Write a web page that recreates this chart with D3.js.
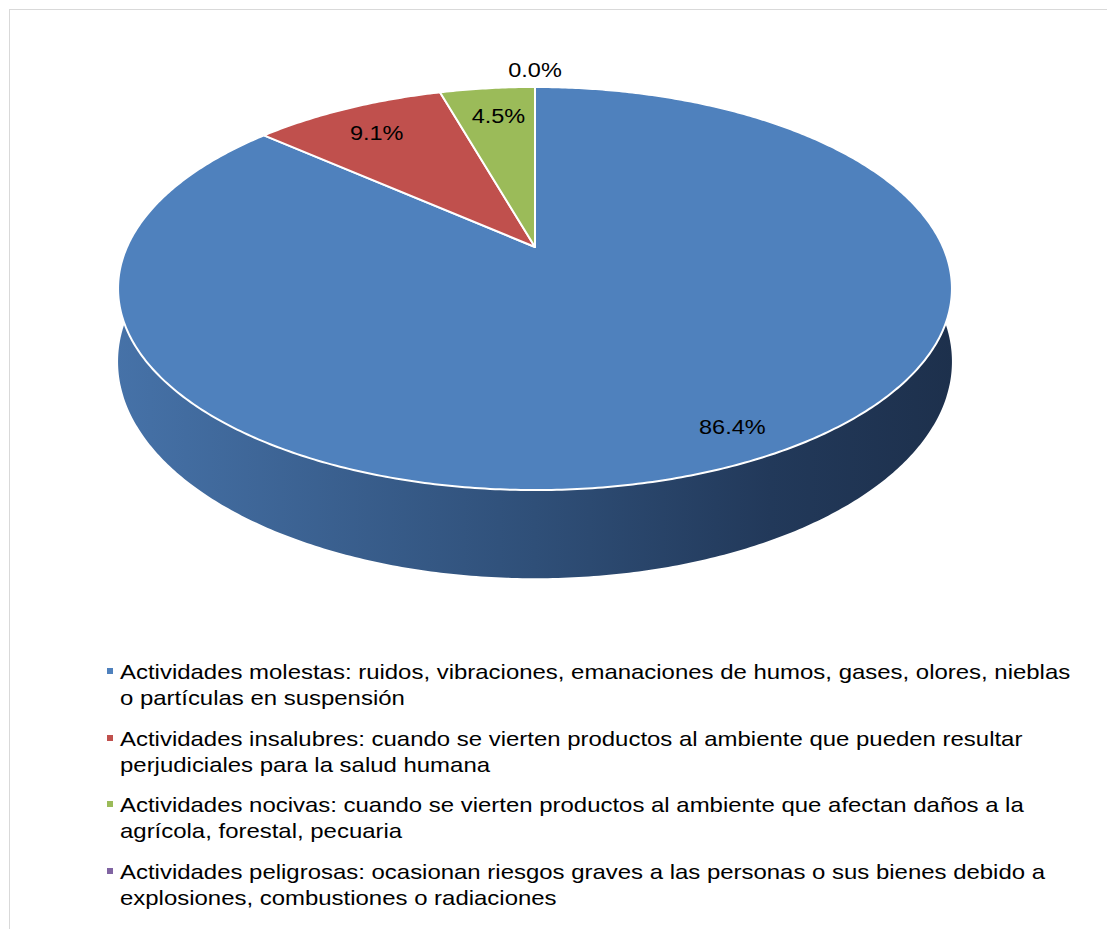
<!DOCTYPE html>
<html>
<head>
<meta charset="utf-8">
<script src="https://cdn.jsdelivr.net/npm/d3@7"></script>
<style>
  body { margin: 0; background: #fff; }
  text { font-family: "Liberation Sans", Arial, sans-serif; }
</style>
</head>
<body>
<div id="chart"></div>
<script>
// data
const categories = [
  "Actividades molestas: ruidos, vibraciones, emanaciones de humos, gases, olores, nieblas|o partículas en suspensión",
  "Actividades insalubres: cuando se vierten productos al ambiente que pueden resultar|perjudiciales para la salud humana",
  "Actividades nocivas: cuando se vierten productos al ambiente que afectan daños a la|agrícola, forestal, pecuaria",
  "Actividades peligrosas: ocasionan riesgos graves a las personas o sus bienes debido a|explosiones, combustiones o radiaciones"
];
const percents = [86.4, 9.1, 4.5, 0.0];
const colors = ["#4F81BD", "#C0504D", "#9BBB59", "#8064A2"];

const width = 1107, height = 929;

// 3d pie geometry (perspective-ish projection)
const cx = 535, cy = 247;   // vertex of the pie on the top face
const A = 408, B = 193;     // horizontal / depth radius
const k = 0.206;            // perspective factor
const H = 70;               // thickness
const stretch = 1.12;       // text in the original is a bit wide

function proj(theta, r, depth) {
  const z = r * Math.cos(theta), s = 1 + k * z;
  return [cx + A * r * Math.sin(theta) / s, cy - B * z / s + depth * H / s];
}

function arcPoints(a0, a1, depth) {
  const n = Math.max(2, Math.ceil((a1 - a0) / 0.01));
  return d3.range(n + 1).map(i => proj(a0 + (a1 - a0) * i / n, 1, depth));
}

const svg = d3.select("#chart").append("svg")
  .attr("width", width)
  .attr("height", height);

svg.append("rect")
  .attr("x", 9.5).attr("y", 9.5)
  .attr("width", 1110).attr("height", 940)
  .attr("fill", "#fff")
  .attr("stroke", "#d9d9d9");

const defs = svg.append("defs");
const grad = defs.append("linearGradient")
  .attr("id", "sideGrad")
  .attr("gradientUnits", "userSpaceOnUse")
  .attr("x1", cx - A * 1.03).attr("x2", cx + A * 1.03)
  .attr("y1", 0).attr("y2", 0);
grad.selectAll("stop")
  .data([[0, "#4672A8"], [0.5, "#2F4F78"], [0.78, "#22395A"], [1, "#1D304C"]])
  .enter().append("stop")
  .attr("offset", d => d[0])
  .attr("stop-color", d => d[1]);

const pie = d3.pie().sort(null).value(d => d)
  .startAngle(0).endAngle(2 * Math.PI);
const arcs = pie(percents);

const line = d3.line();

// outer walls (front part only)
const visA = 1.4, visB = 2 * Math.PI - 1.4;
const sides = svg.append("g");
arcs.forEach((d, i) => {
  const a0 = Math.max(d.startAngle, visA), a1 = Math.min(d.endAngle, visB);
  if (a1 <= a0) return;
  const top = arcPoints(a0, a1, 0);
  const bottom = arcPoints(a0, a1, 1).reverse();
  sides.append("path")
    .attr("d", line(top.concat(bottom)) + "Z")
    .attr("fill", i === 0 ? "url(#sideGrad)" : d3.color(colors[i]).darker(1.2));
});

// top faces
const faces = svg.append("g");
arcs.forEach((d, i) => {
  if (d.endAngle - d.startAngle <= 0) return;
  const pts = [[cx, cy]].concat(arcPoints(d.startAngle, d.endAngle, 0));
  faces.append("path")
    .attr("d", line(pts) + "Z")
    .attr("fill", colors[i])
    .attr("stroke", "#fff")
    .attr("stroke-width", 2)
    .attr("stroke-linejoin", "round");
});

// data labels
const labelR = [0.86, 0.8, 0.8, 1.13];
const labelDx = [24, -4, 3, 0];
svg.append("g").selectAll("text")
  .data(arcs)
  .enter().append("text")
  .attr("transform", (d, i) => {
    const p = proj((d.startAngle + d.endAngle) / 2, labelR[i], 0);
    return "translate(" + (p[0] + labelDx[i]) + "," + p[1] + ") scale(" + stretch + ",1)";
  })
  .attr("dy", "0.35em")
  .attr("text-anchor", "middle")
  .attr("font-size", 21)
  .attr("fill", "#000")
  .text(d => d.data.toFixed(1) + "%");

// legend
const legend = svg.append("g");
const itemY = [679, 746, 812, 879];
categories.forEach((c, i) => {
  const g = legend.append("g").attr("transform", "translate(0," + itemY[i] + ")");
  g.append("rect")
    .attr("x", 107).attr("y", -11)
    .attr("width", 6).attr("height", 6)
    .attr("fill", colors[i]);
  c.split("|").forEach((t, j) => {
    g.append("text")
      .attr("transform", "translate(120," + (j * 25.5) + ") scale(" + stretch + ",1)")
      .attr("font-size", 21)
      .attr("fill", "#000")
      .text(t);
  });
});

// fit the longest legend line to the width it has in the original (120 -> 1070)
const first = legend.select("text").node();
const w = first.getComputedTextLength();
const sx = 950 / w;
legend.selectAll("text").attr("transform", function() {
  return this.getAttribute("transform").replace(/scale\([^)]*\)/, "scale(" + sx + ",1)");
});
</script>
</body>
</html>
